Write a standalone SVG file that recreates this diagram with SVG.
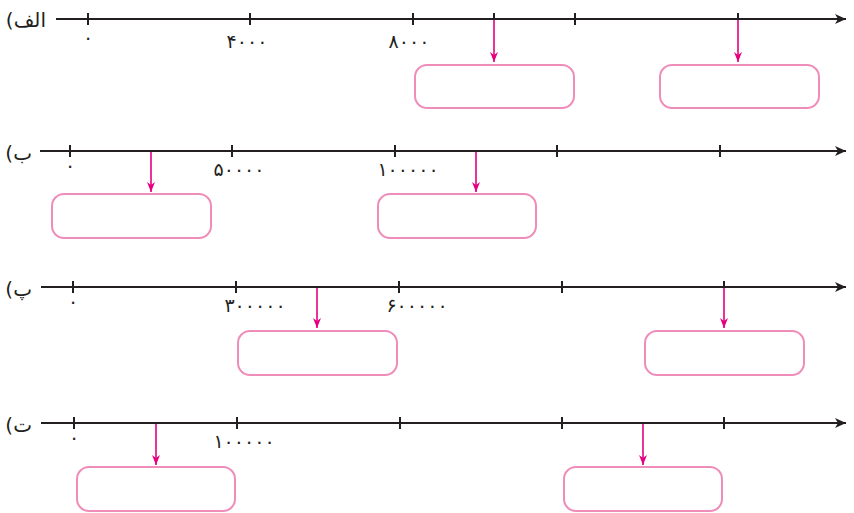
<svg xmlns="http://www.w3.org/2000/svg" width="854" height="513" viewBox="0 0 854 513">
<defs>
<style>
.axis{stroke:#231f20;stroke-width:2.2;fill:none}
.tick{stroke:#231f20;stroke-width:2;fill:none}
.ptr{stroke:#e6007e;stroke-width:1.6;fill:none}
.box{fill:#fff;stroke:#f08cba;stroke-width:2}
.num{font-family:"DejaVu Sans",sans-serif;font-size:19px;fill:#231f20;letter-spacing:2px}
.lbl{font-family:"DejaVu Sans",sans-serif;font-size:20px;fill:#231f20;direction:rtl;unicode-bidi:embed}
</style>
<marker id="ah" markerWidth="14" markerHeight="12" refX="12" refY="6" orient="auto" markerUnits="userSpaceOnUse">
<path d="M1,1 L12,6 L1,11 L4,6 Z" fill="#231f20"/>
</marker>
<marker id="ph" markerWidth="12" markerHeight="12" refX="10" refY="5" orient="auto" markerUnits="userSpaceOnUse">
<path d="M0,1 L10,5 L0,9 L3,5 Z" fill="#e6007e"/>
</marker>
</defs>
<rect width="854" height="513" fill="#fff"/>

<g id="row-alef">
<text class="lbl" x="46" y="27" text-anchor="start">الف)</text>
<line class="axis" x1="56" y1="19" x2="846" y2="19" marker-end="url(#ah)"/>
<path class="tick" d="M88,13V25 M250,13V25 M413,13V25 M494,13V19 M575,13V25 M738,13V19"/>
<text class="num" x="88" y="44" text-anchor="middle">۰</text>
<text class="num" x="247" y="48" text-anchor="middle">۴۰۰۰</text>
<text class="num" x="409" y="48" text-anchor="middle">۸۰۰۰</text>
</g>
<g id="row-be">
<text class="lbl" x="32" y="160" text-anchor="start">ب)</text>
<line class="axis" x1="40" y1="151" x2="846" y2="151" marker-end="url(#ah)"/>
<path class="tick" d="M70,145V157 M232,145V157 M395,145V157 M557,145V157 M720,145V157"/>
<text class="num" x="70" y="172" text-anchor="middle">۰</text>
<text class="num" x="239" y="176" text-anchor="middle">۵۰۰۰۰</text>
<text class="num" x="408" y="176" text-anchor="middle">۱۰۰۰۰۰</text>
</g>
<g id="row-pe">
<text class="lbl" x="32" y="296" text-anchor="start">پ)</text>
<line class="axis" x1="41" y1="287" x2="846" y2="287" marker-end="url(#ah)"/>
<path class="tick" d="M73,281V293 M236,281V293 M399,281V293 M562,281V293 M724,281V287"/>
<text class="num" x="73" y="308" text-anchor="middle">۰</text>
<text class="num" x="255" y="312" text-anchor="middle">۳۰۰۰۰۰</text>
<text class="num" x="417" y="312" text-anchor="middle">۶۰۰۰۰۰</text>
</g>
<g id="row-te">
<text class="lbl" x="32" y="432" text-anchor="start">ت)</text>
<line class="axis" x1="41" y1="423" x2="846" y2="423" marker-end="url(#ah)"/>
<path class="tick" d="M74,417V429 M237,417V429 M400,417V429 M562,417V429 M724,417V429"/>
<text class="num" x="74" y="444" text-anchor="middle">۰</text>
<text class="num" x="244" y="448" text-anchor="middle">۱۰۰۰۰۰</text>
</g>

<g id="box-a1"><rect class="box" x="415" y="65" width="159" height="43" rx="12"/></g>
<g id="box-a2"><rect class="box" x="660" y="65" width="159" height="43" rx="12"/></g>
<g id="box-b1"><rect class="box" x="52" y="194" width="159" height="44" rx="12"/></g>
<g id="box-b2"><rect class="box" x="378" y="194" width="158" height="44" rx="12"/></g>
<g id="box-p1"><rect class="box" x="238" y="331" width="159" height="44" rx="12"/></g>
<g id="box-p2"><rect class="box" x="645" y="331" width="159" height="44" rx="12"/></g>
<g id="box-t1"><rect class="box" x="77" y="467" width="158" height="44" rx="12"/></g>
<g id="box-t2"><rect class="box" x="564" y="467" width="158" height="44" rx="12"/></g>

<g id="connectors">
<line class="ptr" x1="494" y1="20" x2="494" y2="62" marker-end="url(#ph)"/>
<line class="ptr" x1="738" y1="20" x2="738" y2="62" marker-end="url(#ph)"/>
<line class="ptr" x1="151" y1="152" x2="151" y2="192" marker-end="url(#ph)"/>
<line class="ptr" x1="476" y1="152" x2="476" y2="192" marker-end="url(#ph)"/>
<line class="ptr" x1="317" y1="288" x2="317" y2="328" marker-end="url(#ph)"/>
<line class="ptr" x1="724" y1="288" x2="724" y2="328" marker-end="url(#ph)"/>
<line class="ptr" x1="156" y1="424" x2="156" y2="465" marker-end="url(#ph)"/>
<line class="ptr" x1="643" y1="424" x2="643" y2="465" marker-end="url(#ph)"/>
</g>
</svg>
